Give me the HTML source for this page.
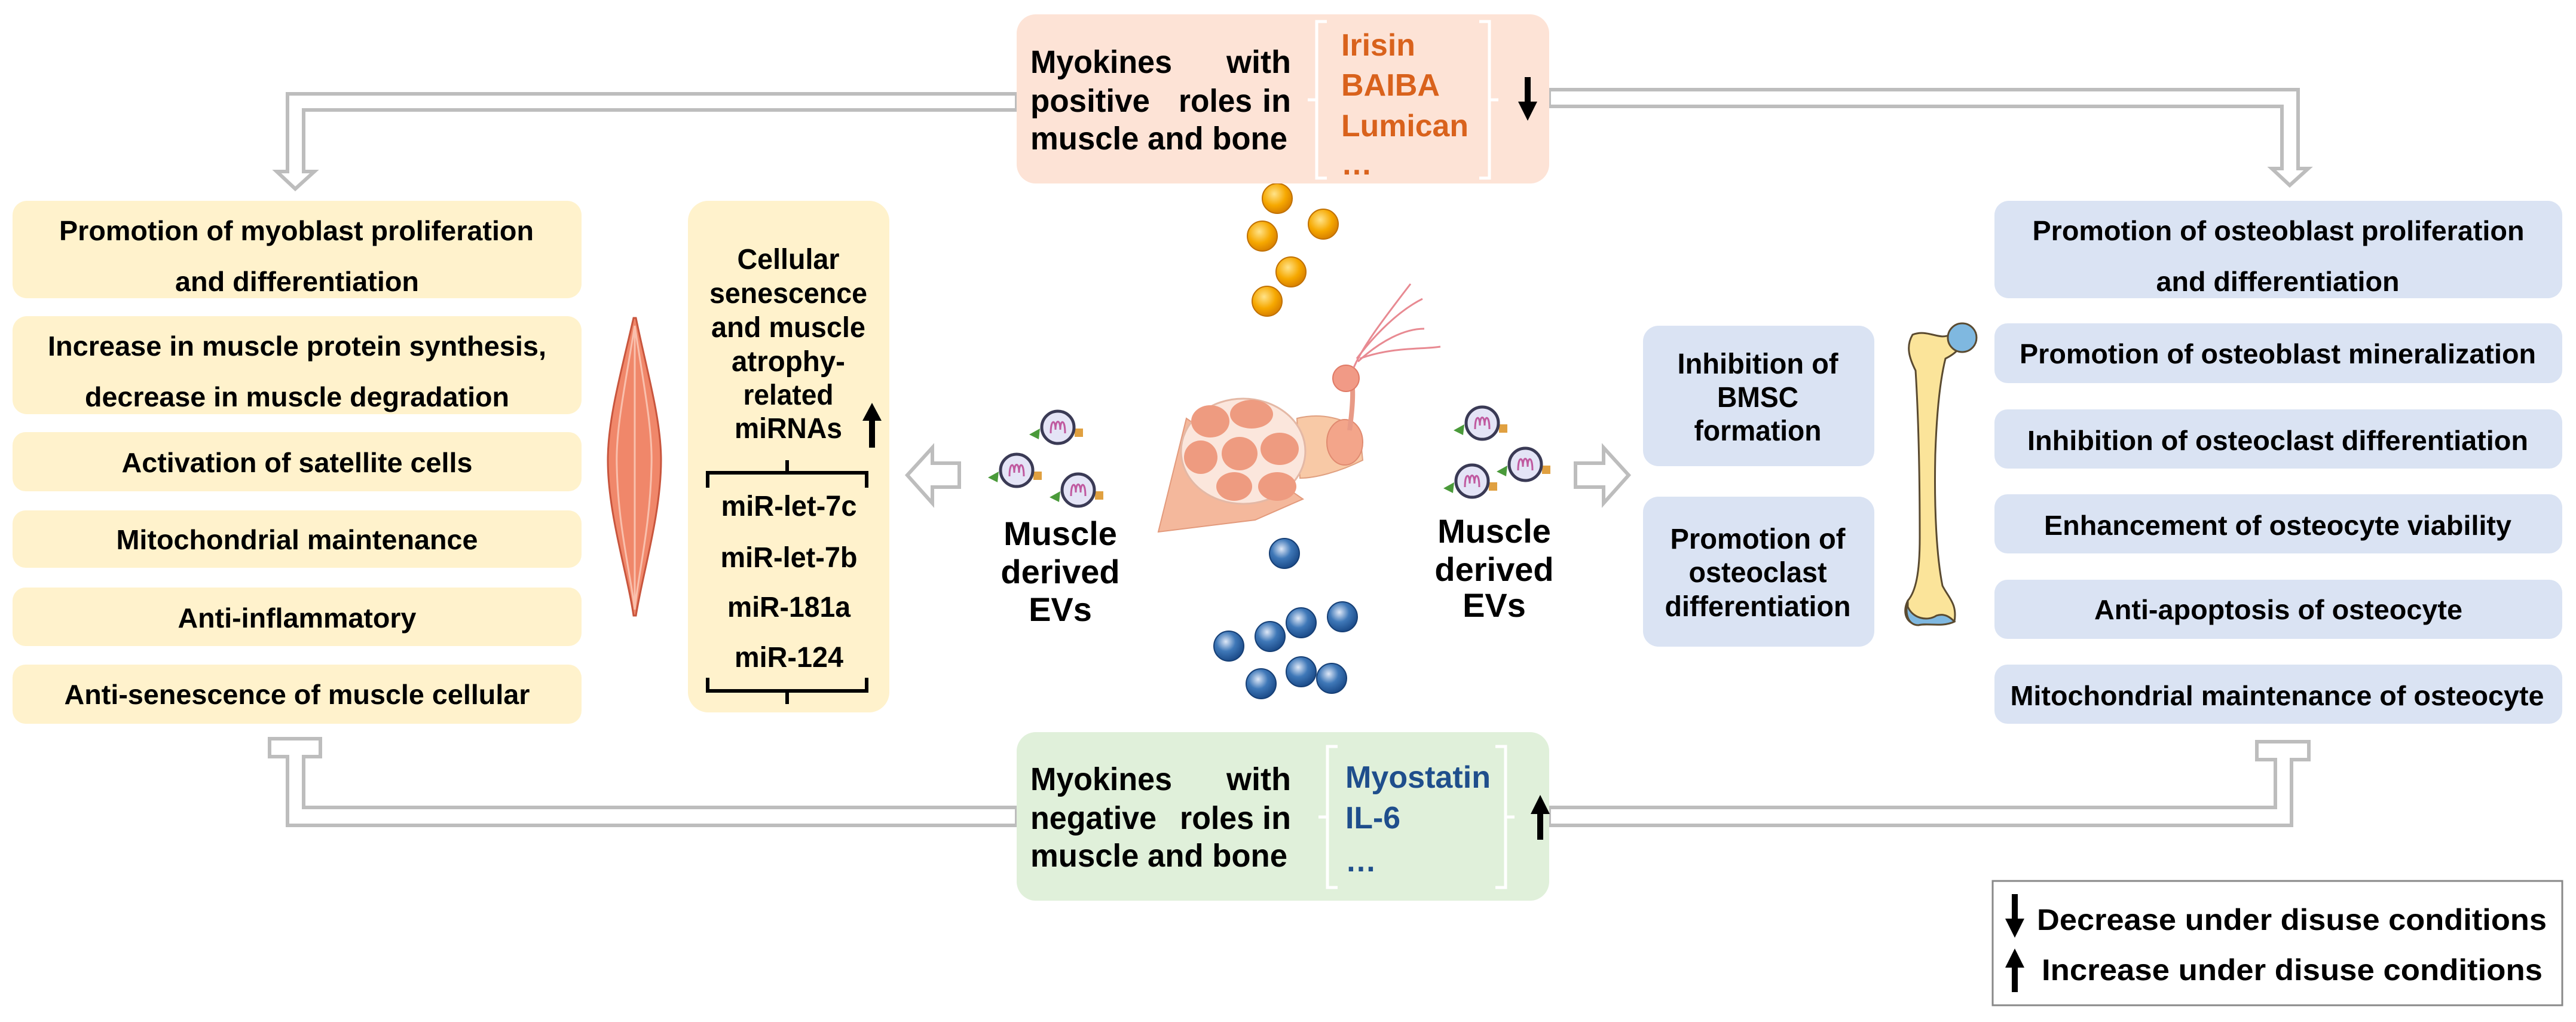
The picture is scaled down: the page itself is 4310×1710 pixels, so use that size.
<!DOCTYPE html>
<html><head><meta charset="utf-8"><style>html,body{margin:0;padding:0;background:#fff}svg{display:block}</style></head>
<body>
<svg width="4310" height="1710" viewBox="0 0 4310 1710" xmlns="http://www.w3.org/2000/svg" font-family="'Liberation Sans', Arial, sans-serif" font-weight="bold">
<defs>
<radialGradient id="og" cx="40%" cy="35%" r="65%"><stop offset="0" stop-color="#ffe38a"/><stop offset="0.6" stop-color="#f6a800"/><stop offset="1" stop-color="#d98200"/></radialGradient>
<radialGradient id="bg" cx="40%" cy="35%" r="65%"><stop offset="0" stop-color="#dfe8f7"/><stop offset="0.5" stop-color="#3f78b8"/><stop offset="1" stop-color="#1c4c8a"/></radialGradient>
<g id="ev"><polygon points="-48,12 -30,2 -32,20" fill="#4a9a3a"/><rect x="28" y="2" width="14" height="14" fill="#e0a040"/><circle r="27" fill="#e4e4f6" stroke="#3a3a55" stroke-width="5"/><path d="M-12,10 C-12,-14 -4,-14 -4,4 C-4,-14 4,-14 4,4 C4,-14 12,-14 12,10" fill="none" stroke="#c05aa0" stroke-width="3"/></g>
</defs>

<!-- connectors -->
<g fill="#fff" stroke="#bdbdbd" stroke-width="6" stroke-linejoin="miter">
<polygon points="1701,157 481,157 481,287 463,287 494,316 526,287 508,287 508,184 1701,184"/>
<polygon points="2592,150 3845,150 3845,282 3862,282 3831,310 3801,282 3818,282 3818,178 2592,178"/>
<polygon points="1701,1381 481,1381 481,1266 451,1266 451,1236 536,1236 536,1266 508,1266 508,1351 1701,1351"/>
<polygon points="2592,1381 3834,1381 3834,1271 3863,1271 3863,1241 3776,1241 3776,1271 3807,1271 3807,1351 2592,1351"/>
<polygon points="1518,795 1560,749 1560,775 1605,775 1605,815 1560,815 1560,842"/>
<polygon points="2725,795 2683,749 2683,775 2636,775 2636,815 2683,815 2683,842"/>
</g>

<!-- left boxes -->
<g fill="#fff2cc">
<rect x="21" y="336" width="952" height="163" rx="24"/>
<rect x="21" y="529" width="952" height="164" rx="24"/>
<rect x="21" y="723" width="952" height="99" rx="22"/>
<rect x="21" y="854" width="952" height="96" rx="22"/>
<rect x="21" y="983" width="952" height="98" rx="22"/>
<rect x="21" y="1112" width="952" height="99" rx="22"/>
<rect x="1151" y="336" width="337" height="856" rx="34"/>
</g>
<g font-size="46" fill="#000" text-anchor="middle">
<text x="496" y="402" textLength="794" lengthAdjust="spacingAndGlyphs">Promotion of myoblast proliferation</text>
<text x="497" y="487" textLength="408" lengthAdjust="spacingAndGlyphs">and differentiation</text>
<text x="497" y="595" textLength="834" lengthAdjust="spacingAndGlyphs">Increase in muscle protein synthesis,</text>
<text x="497" y="680" textLength="710" lengthAdjust="spacingAndGlyphs">decrease in muscle degradation</text>
<text x="497" y="790" textLength="587" lengthAdjust="spacingAndGlyphs">Activation of satellite cells</text>
<text x="497" y="919" textLength="605" lengthAdjust="spacingAndGlyphs">Mitochondrial maintenance</text>
<text x="497" y="1050" textLength="399" lengthAdjust="spacingAndGlyphs">Anti-inflammatory</text>
<text x="497" y="1178" textLength="779" lengthAdjust="spacingAndGlyphs">Anti-senescence of muscle cellular</text>
</g>
<g font-size="48" fill="#000" text-anchor="middle">
<text x="1319" y="450" textLength="171" lengthAdjust="spacingAndGlyphs">Cellular</text>
<text x="1319" y="507" textLength="264" lengthAdjust="spacingAndGlyphs">senescence</text>
<text x="1319" y="564" textLength="258" lengthAdjust="spacingAndGlyphs">and muscle</text>
<text x="1319" y="621" textLength="190" lengthAdjust="spacingAndGlyphs">atrophy-</text>
<text x="1319" y="677" textLength="151" lengthAdjust="spacingAndGlyphs">related</text>
<text x="1319" y="733" textLength="180" lengthAdjust="spacingAndGlyphs">miRNAs</text>
<text x="1320" y="863" textLength="227" lengthAdjust="spacingAndGlyphs">miR-let-7c</text>
<text x="1320" y="949" textLength="229" lengthAdjust="spacingAndGlyphs">miR-let-7b</text>
<text x="1320" y="1032" textLength="206" lengthAdjust="spacingAndGlyphs">miR-181a</text>
<text x="1320" y="1116" textLength="182" lengthAdjust="spacingAndGlyphs">miR-124</text>
</g>
<g fill="none" stroke="#000" stroke-width="6">
<path d="M1184,816 V791 H1450 V816 M1317,791 V770"/>
<path d="M1184,1134 V1156 H1450 V1134 M1317,1156 V1178"/>
</g>

<!-- left muscle -->
<path d="M1060,532 C1040,620 1017,700 1017,770 C1017,860 1050,960 1060,1030 L1064,1030 C1075,960 1106,860 1106,770 C1106,700 1082,620 1064,532 Z" fill="#f0876a" stroke="#c8553d" stroke-width="3"/>
<g fill="none" stroke="#f9c0ad" stroke-width="3">
<path d="M1062,545 C1045,650 1030,720 1032,780 C1034,880 1055,960 1062,1020"/>
<path d="M1062,545 C1078,650 1092,720 1090,780 C1088,880 1068,960 1062,1020"/>
<path d="M1062,545 L1062,1020"/>
</g>

<!-- EVs -->
<use href="#ev" x="1770" y="715"/><use href="#ev" x="1701" y="787"/><use href="#ev" x="1804" y="820"/>
<use href="#ev" x="2480" y="708"/><use href="#ev" x="2463" y="805"/><use href="#ev" x="2552" y="777"/>
<g font-size="56" fill="#000" text-anchor="middle">
<text x="1774" y="912">Muscle</text><text x="1774" y="976">derived</text><text x="1774" y="1039">EVs</text>
<text x="2500" y="908">Muscle</text><text x="2500" y="972">derived</text><text x="2500" y="1032">EVs</text>
</g>

<!-- balls -->
<g fill="url(#og)" stroke="#c07000" stroke-width="2">
<circle cx="2137" cy="332" r="25"/><circle cx="2112" cy="395" r="25"/><circle cx="2214" cy="375" r="25"/><circle cx="2160" cy="455" r="25"/><circle cx="2120" cy="504" r="25"/>
</g>
<g fill="url(#bg)" stroke="#163f75" stroke-width="2">
<circle cx="2149" cy="926" r="25"/><circle cx="2056" cy="1081" r="25"/><circle cx="2125" cy="1065" r="25"/><circle cx="2177" cy="1042" r="25"/><circle cx="2246" cy="1032" r="25"/><circle cx="2110" cy="1144" r="25"/><circle cx="2177" cy="1124" r="25"/><circle cx="2228" cy="1135" r="25"/>
</g>

<!-- muscle bundle -->
<g>
<polygon points="1938,890 1985,700 2180,835 2100,870" fill="#f4b89c" stroke="#e39a7c" stroke-width="2"/>
<path d="M2170,700 C2210,690 2250,700 2275,720 L2280,770 C2240,790 2200,800 2175,800 Z" fill="#f8c9a6" stroke="#e0a080" stroke-width="2"/>
<ellipse cx="2250" cy="740" rx="30" ry="38" fill="#f3a58a" stroke="#e08a70" stroke-width="2"/>
<ellipse cx="2080" cy="755" rx="104" ry="88" fill="#fbe6dc" stroke="#e4b8a5" stroke-width="3"/>
<g fill="#ee9b80">
<ellipse cx="2025" cy="705" rx="32" ry="27"/><ellipse cx="2094" cy="693" rx="36" ry="24"/><ellipse cx="2009" cy="765" rx="28" ry="28"/><ellipse cx="2074" cy="759" rx="30" ry="28"/><ellipse cx="2141" cy="751" rx="32" ry="27"/><ellipse cx="2065" cy="814" rx="30" ry="24"/><ellipse cx="2137" cy="814" rx="32" ry="24"/>
</g>
<path d="M2258,720 C2262,690 2265,660 2262,640" fill="none" stroke="#e89a86" stroke-width="8"/>
<circle cx="2252" cy="633" r="22" fill="#f19a86" stroke="#e07a66" stroke-width="2"/>
<path d="M2265,615 C2280,580 2310,540 2360,475 M2270,600 C2300,560 2340,520 2380,500 M2272,605 C2310,570 2350,550 2383,550 M2275,600 C2330,580 2380,585 2410,580" fill="none" stroke="#e88a92" stroke-width="3"/>
</g>

<!-- pink box -->
<rect x="1701" y="24" width="891" height="283" rx="32" fill="#fde3d6"/>
<g font-size="54" fill="#000">
<text x="1724" y="122" textLength="237" lengthAdjust="spacingAndGlyphs">Myokines</text><text x="2160" y="122" text-anchor="end">with</text>
<text x="1724" y="187" textLength="200" lengthAdjust="spacingAndGlyphs">positive</text><text x="1972" y="187" textLength="123" lengthAdjust="spacingAndGlyphs">roles</text><text x="2160" y="187" text-anchor="end">in</text>
<text x="1724" y="250" textLength="430" lengthAdjust="spacingAndGlyphs">muscle and bone</text>
</g>
<g fill="none" stroke="#ffffff" stroke-width="5">
<path d="M2220,36 H2203 V298 H2220 M2203,167 H2188"/>
<path d="M2475,36 H2492 V298 H2475 M2492,167 H2507"/>
</g>
<g font-size="52" fill="#d9621c">
<text x="2244" y="93" textLength="124" lengthAdjust="spacingAndGlyphs">Irisin</text>
<text x="2244" y="160" textLength="165" lengthAdjust="spacingAndGlyphs">BAIBA</text>
<text x="2244" y="228" textLength="213" lengthAdjust="spacingAndGlyphs">Lumican</text>
<text x="2244" y="292">…</text>
</g>

<!-- green box -->
<rect x="1701" y="1225" width="891" height="282" rx="32" fill="#e0f0da"/>
<g font-size="54" fill="#000">
<text x="1724" y="1322" textLength="237" lengthAdjust="spacingAndGlyphs">Myokines</text><text x="2160" y="1322" text-anchor="end">with</text>
<text x="1724" y="1387" textLength="211" lengthAdjust="spacingAndGlyphs">negative</text><text x="1974" y="1387" textLength="124" lengthAdjust="spacingAndGlyphs">roles</text><text x="2160" y="1387" text-anchor="end">in</text>
<text x="1724" y="1450" textLength="430" lengthAdjust="spacingAndGlyphs">muscle and bone</text>
</g>
<g fill="none" stroke="#ffffff" stroke-width="5">
<path d="M2238,1249 H2221 V1485 H2238 M2221,1367 H2206"/>
<path d="M2502,1249 H2519 V1485 H2502 M2519,1367 H2534"/>
</g>
<g font-size="52" fill="#1f4e8c">
<text x="2251" y="1318" textLength="243" lengthAdjust="spacingAndGlyphs">Myostatin</text>
<text x="2251" y="1386" textLength="92" lengthAdjust="spacingAndGlyphs">IL-6</text>
<text x="2251" y="1458">…</text>
</g>

<!-- middle right boxes -->
<g fill="#dae3f3">
<rect x="2749" y="545" width="387" height="235" rx="26"/>
<rect x="2749" y="831" width="387" height="251" rx="26"/>
<rect x="3337" y="336" width="950" height="163" rx="24"/>
<rect x="3337" y="541" width="950" height="100" rx="22"/>
<rect x="3337" y="685" width="950" height="99" rx="22"/>
<rect x="3337" y="827" width="950" height="99" rx="22"/>
<rect x="3337" y="970" width="950" height="99" rx="22"/>
<rect x="3337" y="1112" width="950" height="99" rx="22"/>
</g>
<g font-size="48" fill="#000" text-anchor="middle">
<text x="2941" y="625" textLength="269" lengthAdjust="spacingAndGlyphs">Inhibition of</text>
<text x="2941" y="681" textLength="136" lengthAdjust="spacingAndGlyphs">BMSC</text>
<text x="2941" y="737" textLength="213" lengthAdjust="spacingAndGlyphs">formation</text>
<text x="2941" y="918" textLength="293" lengthAdjust="spacingAndGlyphs">Promotion of</text>
<text x="2941" y="974" textLength="231" lengthAdjust="spacingAndGlyphs">osteoclast</text>
<text x="2941" y="1031" textLength="311" lengthAdjust="spacingAndGlyphs">differentiation</text>
</g>
<g font-size="46" fill="#000" text-anchor="middle">
<text x="3812" y="402" textLength="823" lengthAdjust="spacingAndGlyphs">Promotion of osteoblast proliferation</text>
<text x="3811" y="487" textLength="407" lengthAdjust="spacingAndGlyphs">and differentiation</text>
<text x="3811" y="608" textLength="864" lengthAdjust="spacingAndGlyphs">Promotion of osteoblast mineralization</text>
<text x="3811" y="753" textLength="838" lengthAdjust="spacingAndGlyphs">Inhibition of osteoclast differentiation</text>
<text x="3811" y="895" textLength="782" lengthAdjust="spacingAndGlyphs">Enhancement of osteocyte viability</text>
<text x="3812" y="1036" textLength="616" lengthAdjust="spacingAndGlyphs">Anti-apoptosis of osteocyte</text>
<text x="3810" y="1180" textLength="893" lengthAdjust="spacingAndGlyphs">Mitochondrial maintenance of osteocyte</text>
</g>

<!-- bone -->
<g stroke="#5a4a30" stroke-width="3">
<path d="M3200,560 C3225,550 3245,570 3262,560 L3280,555 C3290,575 3275,590 3255,600 C3245,640 3240,700 3238,760 C3236,850 3240,930 3250,980 C3260,1000 3275,1010 3270,1040 C3250,1050 3225,1040 3210,1045 C3190,1045 3182,1025 3192,1005 C3205,990 3212,960 3212,900 C3212,800 3210,700 3205,620 C3195,600 3188,580 3200,560 Z" fill="#fbe49a"/>
<circle cx="3283" cy="565" r="24" fill="#7fb8e0"/>
<path d="M3192,1015 C3200,1035 3225,1040 3240,1030 C3255,1025 3265,1035 3270,1040 C3250,1050 3225,1042 3210,1046 C3194,1046 3186,1030 3192,1005 Z" fill="#7fb8e0"/>
</g>

<!-- legend -->
<rect x="3334" y="1474" width="953" height="208" fill="#fff" stroke="#888" stroke-width="3"/>
<g font-size="50" fill="#000">
<text x="3408" y="1556" textLength="853" lengthAdjust="spacingAndGlyphs">Decrease under disuse conditions</text>
<text x="3416" y="1640" textLength="838" lengthAdjust="spacingAndGlyphs">Increase under disuse conditions</text>
</g>

<!-- arrows black (on top) -->
<g fill="#000">
<rect x="1454" y="700" width="10" height="49"/><polygon points="1443,704 1459,674 1475,704"/>
<rect x="2551" y="129" width="10" height="45"/><polygon points="2540,170 2556,202 2572,170"/>
<rect x="2572" y="1358" width="10" height="47"/><polygon points="2561,1362 2577,1330 2593,1362"/>
<rect x="3366" y="1496" width="10" height="45"/><polygon points="3355,1537 3371,1569 3387,1537"/>
<rect x="3366" y="1615" width="10" height="45"/><polygon points="3355,1619 3371,1587 3387,1619"/>
</g>
</svg>
</body></html>
